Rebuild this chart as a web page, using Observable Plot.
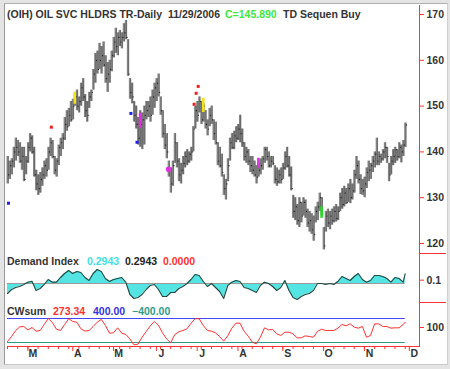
<!DOCTYPE html>
<html><head><meta charset="utf-8">
<script src="https://cdn.jsdelivr.net/npm/d3@7"></script>
<script src="https://cdn.jsdelivr.net/npm/@observablehq/plot@0.6"></script>
<style>
body{margin:0;background:#e4e4e4;}
#wrap{position:relative;width:450px;height:369px;overflow:hidden;background:#e4e4e4;font-family:"Liberation Sans",Arial,sans-serif;}
#box{position:absolute;left:4px;top:3px;width:442px;height:360px;background:#fff;border-left:1px solid #9a9a9a;border-top:1px solid #b0b0b0;border-right:1px solid #d0d0d0;border-bottom:1px solid #c8c8c8;}
.lbl{position:absolute;font-size:10.5px;font-weight:bold;white-space:nowrap;line-height:12px;color:#333;}
.pan{position:absolute;left:0;}
.sep{position:absolute;background:#f33;}
</style></head>
<body>
<div id="wrap"><div id="box"></div></div>
<script>
// ---- price bars (index = trading day from mid-Feb 2006 to 11/29/2006) ----
const high = [139,138,138.5,141,143,142.5,142,141,141,139,
142,144,143.5,141,136,135,135.5,136.5,138,138.5,
141,143,142.5,139,138.5,141.5,143,144,147.5,149,
149.5,151,151.5,153,153.5,152,155,156,152.5,151,
153,153.5,158,161.5,162,163.7,163,164,161,159.5,
160,162,165,167,166,166.5,166,168,168.7,164.5,
156,155,151,150,147.5,149,148.5,150,151,151,
152,153.5,155,156,157,152,149,146,144,138,
136.5,138,144,142,138.5,137.5,139,140,140.5,140,
141,145.5,150,151,152,151,150.5,149,147,149.5,
150,147,146.5,142,141,139.5,135,134,138.5,143,
144,144.5,145.5,146,148,145,142,141,140.5,139,
139,138,137,137.5,138.5,139,141,141,140,139,
139,137,136.5,136,136.5,137.5,140,141,139,136.7,
130.5,130,128.5,130,129,130,129.5,127.5,127,126.5,
126,128,129,131,130,123.5,127,127.5,127,127.5,
128,128.5,128,131,132,132.5,132,133,134,133,
136,139,138,135,134,134.5,136.5,138,137.5,139,
140,143,140,139.5,140.5,142,141,137.5,139,140.5,
141,140.5,142,141.5,142.5,146.3];
const low = [133,134,135,136.5,138,139,137.5,136,133.5,135,
137.5,140,139.5,134.5,131.5,130.5,131,132.5,134,134.5,
136,139,138.5,135,134.5,137,139,140.5,142.5,144.5,
145.5,146.5,147,150,149,148.5,150,151,147.5,146.5,
149.5,151,153.5,155,157,158,157,158.5,155,153,
155,157.5,160.5,161.5,161,163,162.5,164,164.5,156.5,
151.5,150.5,146.5,145,141.5,141,140.5,141.5,147,147.5,
146.5,148,149.5,151,152,148,143,140.5,138.5,134.5,
131,132.5,137.5,136.5,133.5,133,135,136.5,137,137.5,
138,140,145,146.5,148.5,146,146.5,145,143.5,145.5,
146,142.5,141.5,137,136.5,134.5,130.5,129.5,133.5,138,
140.5,140.5,142,142.5,142,141,138,137.5,137,135.5,
135,134.5,133,134.5,135,136,137.5,138,136.5,136.5,
137,133,132.5,133,133,134,136,136.5,134.5,131.5,
125.5,125,124,123.5,124.5,126,125.5,123.5,122.5,122,
120.5,124.5,125,127,126,118.6,122.5,123.5,123,124,
124.5,124.7,125,127,127.5,128,128.5,129,128.7,129.5,
131,134,133,130.7,130.5,130,132,133.5,134,135.5,
136.5,137,137,137.5,138,138.5,137.5,133.5,135,137,
137.5,138,138.5,137.6,139,141];
const close = [135,137,138,140,141,140,138,139,134,138,
141,143,140,135,133,132,134,135,137,136,
140,142,139,136,138,141,142,143,146,145.5,
148,147,150,152,150,151,154,152,149,148,
152,153,157,160,158,160,161,159,156,157,
158,161,164,163,165,164,165,166,165,157,
153,152,148,146,143,146,147,148,149,150,
148,152,154,155,153,149,144,141.5,140,136,
133,137,142,138,135,136,137.5,139,138,139.5,
140,145,149,148,151,147,150,146,145,148,
147,144,142,138,137,135.5,132,133,137,142,
141,143.5,143,145,144,142,139,140,138,137,
136,135,134.5,136,137,138.5,140.5,139,137,138,
137.5,134,133.5,135,134,136.5,139,137,135,132,
127,128,125,129,126,129,127,124.5,125,123,
122,127,128,130,126.5,119.5,126,124.5,126,125,
127,125.5,127,130,128.5,131,129,132,130,131.5,
135,137,134,132,131.5,133,135.5,136,137,138,
139.5,138,139,138.5,140,141,139,135,138,139,
140.5,139,141,140,141.5,145.89];

// ---- coloured signal bars and flags ----
const hlBar = [33, 65, 96, 123, 154];
const hlHigh = [153.0, 148.4, 151.7, 138.6, 128.0];
const hlLow = [150.4, 145.2, 148.6, 136.5, 125.5];
const hlColor = ["#f2e21c", "#e030e0", "#f2e21c", "#e030e0", "#22dd22"];
const flagBar = [0, 21, 60, 63, 91, 92, 93];
const flagPrice = [128.8, 145.4, 148.4, 142.1, 150.4, 152.8, 154.3];
const flagColor = ["#2020ee", "#ee2020", "#2020ee", "#2020ee", "#ee2020", "#ee2020", "#ee2020"];
const blobBar = [79];
const blobPrice = [136.2];

// ---- Demand Index (every other bar + last) ----
const diValues = [-0.30,-0.18,-0.12,-0.09,-0.03,0.04,0.07,-0.21,-0.15,-0.03,
0.12,0.04,0.04,0.18,0.30,0.39,0.30,0.36,0.33,0.18,
0.09,0.30,0.42,0.36,0.15,0.06,0.12,0.15,0.18,0.04,
-0.33,-0.45,-0.42,-0.33,-0.18,-0.06,-0.03,-0.18,-0.39,-0.39,
-0.27,-0.27,-0.15,-0.09,0,0.12,0.27,0.24,0.06,-0.09,
0,-0.12,-0.24,-0.45,-0.06,0.04,0.09,0.06,-0.12,-0.15,
-0.21,-0.27,-0.06,0.04,0,-0.09,-0.21,-0.12,0.09,-0.21,
-0.42,-0.48,-0.39,-0.33,-0.30,-0.21,0,0,-0.03,0,
-0.03,0.06,0.21,0.15,0.09,0.21,0.30,0.12,0.04,0.09,
0.24,0.24,0.21,0.15,0.04,0.18,0.15,0.04,0.2943];

// ---- CWsum (every other bar + last) ----
const cwValues = [-367,-200,0,122,133,22,100,-22,0,200,
400,267,44,0,200,395,300,278,56,-22,
0,133,278,370,167,-89,-78,89,-89,-133,
-278,-478,-456,-222,-33,156,300,178,-78,-278,
-411,-133,-44,0,56,244,395,389,167,0,
-22,-78,-200,-356,-178,78,244,244,-22,-189,
-389,-444,-222,89,22,33,-111,-167,-56,-56,
-111,-244,-244,-178,-200,-222,-33,44,0,0,
0,78,200,156,222,111,78,133,-222,-167,
222,222,133,133,78,89,89,200,273.34];

const priceTicks = [120,130,140,150,160,170];
const diTicks = [0.1];
const cwTicks = [100];
const cwBands = [400, -400];
const monthTicks = [10, 32, 52, 73, 93, 113, 135, 155, 175, 197];
const monthLabels = ["M","A","M","J","J","A","S","O","N","D"];

// ---- tables ----
const n = high.length;
const bars = high.map((h, i) => ({i, high: h, low: low[i], close: close[i]}));
const sampleIdx = d3.range(0, n - 1, 2).concat([n - 1]);
const di = diValues.map((v, k) => ({i: sampleIdx[k], v}));
const cw = cwValues.map((v, k) => ({i: sampleIdx[k], v}));
const hl = hlBar.map((b, k) => ({i: b, y1: hlLow[k], y2: hlHigh[k], c: hlColor[k]}));
const flags = flagBar.map((b, k) => ({i: b, y: flagPrice[k], c: flagColor[k]}));
const blobs = blobBar.map((b, k) => ({i: b, y: blobPrice[k]}));
const months = monthTicks.map((t, k) => ({i: t, t: monthLabels[k]}));
const weekTicks = d3.range(0, 200, 5);

const RED = "#f33";
const xDom = [0, 202];
const common = {
  width: 450, marginLeft: 7, marginRight: 31,
  x: {domain: xDom, axis: null},
  style: {background: "transparent", fontFamily: "Liberation Sans, Arial, sans-serif", fontSize: "10.5px", overflow: "visible"}
};
const rightAxis = (ticks, fmt) => [
  Plot.axisY(ticks, {anchor: "right", label: null, tickSize: 4, stroke: RED, tickFormat: () => ""}),
  Plot.axisY(ticks, {anchor: "right", label: null, tickSize: 0, tickPadding: 7, fill: "#333", fontWeight: "bold", tickFormat: fmt})
];

const price = Plot.plot({
  ...common, height: 253, marginTop: 14, marginBottom: 10,
  y: {domain: [120, 170]},
  marks: [
    Plot.ruleX(bars, {x: "i", y1: "low", y2: "high", stroke: "#858585", strokeWidth: 2}),
    Plot.ruleX(bars, {x: "i", y1: "low", y2: "high", stroke: "#2a2a2a", strokeWidth: 0.5, dx: 0.9}),
    Plot.dot(bars, {x: "i", y: "close", r: 0.6, fill: "#111", dx: 1.2}),
    Plot.ruleX(hl, {x: "i", y1: "y1", y2: "y2", stroke: "c", strokeWidth: 2.6}),
    Plot.dot(blobs, {x: "i", y: "y", r: 2.8, fill: "#e030e0"}),
    Plot.dot(flags, {x: "i", y: "y", fill: "c", symbol: "square", r: 1.7, dx: 1}),
    ...rightAxis(priceTicks, d => d3.format("d")(d))
  ]
});

const dip = Plot.plot({
  ...common, height: 50, marginTop: 0, marginBottom: 0,
  y: {domain: [-0.6, 0.9]},
  marks: [
    Plot.areaY(di, {x: "i", y1: 0, y2: "v", fill: "#55e4e4"}),
    Plot.ruleY([0], {x1: 0, x2: n - 1, stroke: "#9a9a9a", strokeWidth: 1.2}),
    Plot.lineY(di, {x: "i", y: "v", stroke: "#1e4a40", strokeWidth: 1.1}),
    ...rightAxis(diTicks, d => d3.format(".1f")(d))
  ]
});

const cwYDom = [-533.33, 400];
const cwp = Plot.plot({
  ...common, height: 67, marginTop: 16, marginBottom: 23,
  y: {domain: cwYDom},
  marks: [
    Plot.ruleY([cwBands[0]], {x1: 0, x2: n - 1, stroke: "#4444ff", strokeWidth: 1.2}),
    Plot.ruleY([cwBands[1]], {x1: 0, x2: n - 1, stroke: "#2f9a88", strokeWidth: 1.2}),
    Plot.lineY(cw, {x: "i", y: "v", stroke: "#ff3030", strokeWidth: 1}),
    ...rightAxis(cwTicks, d => d3.format("d")(d)),
    Plot.ruleY([cwYDom[0]], {stroke: RED, strokeWidth: 1.2}),
    Plot.axisX(weekTicks, {anchor: "bottom", label: null, tickSize: 3, stroke: RED, tickFormat: () => ""}),
    Plot.axisX(monthTicks, {anchor: "bottom", label: null, tickSize: 5, stroke: RED, tickFormat: () => ""}),
    Plot.text(months, {x: "i", text: "t", frameAnchor: "bottom", dy: 10, dx: 5, fill: "#333", fontWeight: "bold", fontSize: 10.5})
  ]
});

const wrap = document.getElementById("wrap");
function place(el, top) { el.classList.add("pan"); el.style.top = top + "px"; wrap.appendChild(el); }
place(price, 0); place(dip, 253); place(cwp, 302);

function lbl(text, left, top, color) {
  const s = document.createElement("div");
  s.className = "lbl"; s.textContent = text;
  s.style.left = left + "px"; s.style.top = top + "px";
  if (color) s.style.color = color;
  wrap.appendChild(s);
}
function sep(left, top, w, h) {
  const s = document.createElement("div");
  s.className = "sep"; s.style.left = left + "px"; s.style.top = top + "px";
  s.style.width = w + "px"; s.style.height = h + "px";
  wrap.appendChild(s);
}
sep(419, 5, 1, 342);
sep(419, 253, 27, 1);
sep(419, 302, 27, 1);

lbl("(OIH) OIL SVC HLDRS TR-Daily", 7, 8);
lbl("11/29/2006", 168, 8);
lbl("C=" + close[n - 1].toFixed(3), 225, 8, "#3de83d");
lbl("TD Sequen Buy", 283, 8);
lbl("Demand Index", 7, 255);
lbl(d3.format(".4f")(diValues[diValues.length - 1]), 87, 255, "#40e0e0");
lbl(d3.format(".4f")(diValues[diValues.length - 1]), 125, 255, "#222");
lbl("0.0000", 163, 255, "#ff3030");
lbl("CWsum", 7, 305);
lbl(d3.format(".2f")(cwValues[cwValues.length - 1]), 53, 305, "#ff3030");
lbl(d3.format(".2f")(cwBands[0]), 93, 305, "#3434dd");
lbl(d3.format(".2f")(cwBands[1]), 132, 305, "#2f9a88");
</script>
</body></html>
